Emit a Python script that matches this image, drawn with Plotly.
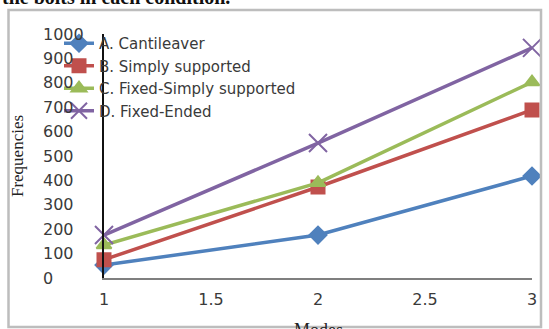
import plotly.graph_objects as go

# Natural frequencies for the first three modes under each end condition
modes = [1, 2, 3]
cantilever = [53, 176, 418]
simply_supported = [75, 373, 689]
fixed_simply = [135, 390, 803]
fixed_ended = [176, 553, 943]

series_names = ["A. Cantileaver", "B. Simply supported",
                "C. Fixed-Simply supported", "D. Fixed-Ended"]
series_values = [cantilever, simply_supported, fixed_simply, fixed_ended]
colors = ["#4F81BD", "#C0504D", "#9BBB59", "#8064A2"]
symbols = ["diamond", "square", "triangle-up", "x-thin-open"]
marker_sizes = [13, 13, 13, 18]

y_ticks = [0, 100, 200, 300, 400, 500, 600, 700, 800, 900, 1000]
x_ticks = [1, 1.5, 2, 2.5, 3]
x_tick_text = ["1", "1.5", "2", "2.5", "3"]

W, H = 549, 329
ML, MR, MT, MB = 104, 17, 34, 51
plot_w = W - ML - MR
plot_h = H - MT - MB


def px_to_paper_x(px):
    return (px - ML) / plot_w


def px_to_paper_y(py):
    return (H - MB - py) / plot_h


fig = go.Figure()
for name, vals, col, sym, ms in zip(series_names, series_values, colors, symbols, marker_sizes):
    fig.add_trace(go.Scatter(
        x=modes, y=vals, name=name, mode="lines+markers",
        line=dict(color=col, width=3.5),
        marker=dict(symbol=sym, size=ms, color=col,
                    line=dict(color=col, width=2)),
        cliponaxis=False,
    ))

tick_font = dict(family="DejaVu Sans", size=16, color="#3a3a3a")

annotations = []
# Left-aligned value labels for the vertical axis
for v in y_ticks:
    annotations.append(dict(
        x=px_to_paper_x(41), xref="paper", xanchor="left",
        y=v, yref="y", yanchor="middle",
        text=str(v), showarrow=False, font=tick_font,
    ))

# Caption line above the chart frame (only its lower edge falls on the page)
annotations.append(dict(
    x=px_to_paper_x(0), xref="paper", xanchor="left",
    y=px_to_paper_y(10), yref="paper", yanchor="bottom",
    text="<b>the bolts in each condition.</b>", showarrow=False,
    font=dict(family="Liberation Serif", size=20, color="#111111"),
))

# Horizontal axis title, sitting low against the bottom of the frame
annotations.append(dict(
    x=0.5, xref="paper", xanchor="center",
    y=px_to_paper_y(318), yref="paper", yanchor="top",
    text="Modes", showarrow=False,
    font=dict(family="Liberation Serif", size=18, color="#222222"),
))

fig.update_layout(
    width=W, height=H,
    margin=dict(l=ML, r=MR, t=MT, b=MB, autoexpand=False),
    paper_bgcolor="white", plot_bgcolor="white",
    showlegend=True,
    legend=dict(
        x=px_to_paper_x(59), xanchor="left",
        y=px_to_paper_y(27), yanchor="top",
        bgcolor="rgba(0,0,0,0)", borderwidth=0,
        font=dict(family="DejaVu Sans", size=15, color="#3a3a3a"),
        tracegroupgap=0, itemwidth=30,
    ),
    xaxis=dict(
        range=[1, 3], tickvals=x_ticks, ticktext=x_tick_text,
        showgrid=False, zeroline=False,
        showline=True, linecolor="#7f7f7f", linewidth=1.5,
        ticks="", tickfont=tick_font, ticklabelstandoff=6,
    ),
    yaxis=dict(
        range=[0, 1000], tickvals=y_ticks,
        showticklabels=False, showgrid=False, zeroline=False,
        showline=True, linecolor="#111111", linewidth=1.5,
        ticks="",
        title=dict(text="Frequencies", standoff=74,
                   font=dict(family="Liberation Serif", size=17, color="#222222")),
    ),
    annotations=annotations,
    shapes=[dict(
        type="rect", xref="paper", yref="paper", layer="above",
        x0=px_to_paper_x(8.5), x1=px_to_paper_x(541),
        y0=px_to_paper_y(327), y1=px_to_paper_y(10),
        line=dict(color="#bdbdbd", width=2.5),
        fillcolor="rgba(0,0,0,0)",
    )],
)

fig.write_html("out.html")
